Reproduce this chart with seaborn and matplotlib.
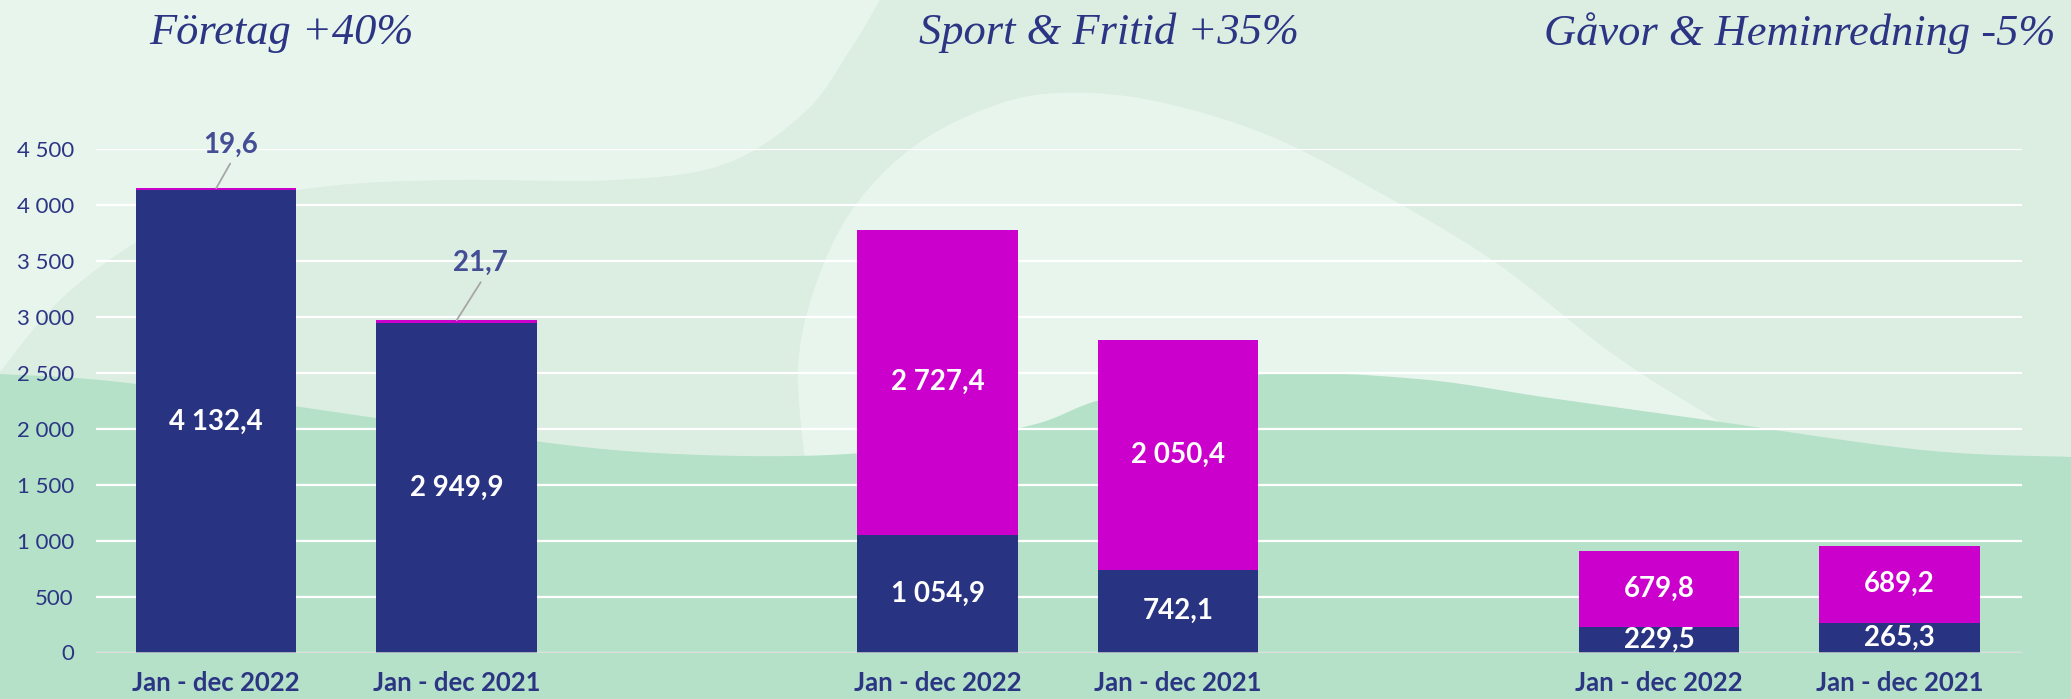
import numpy as np
import pandas as pd
import matplotlib
matplotlib.use("Agg")
import matplotlib.pyplot as plt
from matplotlib.patches import Polygon
import seaborn as sns

# ---- data -------------------------------------------------------------
segment_titles = ["Företag +40%", "Sport & Fritid +35%", "Gåvor & Heminredning -5%"]
period_labels = ["Jan - dec 2022", "Jan - dec 2021",
                 "Jan - dec 2022", "Jan - dec 2021",
                 "Jan - dec 2022", "Jan - dec 2021"]
slot_positions = [0, 1, 3, 4, 6, 7]
navy_values = [4132.4, 2949.9, 1054.9, 742.1, 229.5, 265.3]
magenta_values = [19.6, 21.7, 2727.4, 2050.4, 679.8, 689.2]
y_ticks = [0, 500, 1000, 1500, 2000, 2500, 3000, 3500, 4000, 4500]

NAVY = "#283382"
MAGENTA = "#CC00CC"
TEXT_NAVY = "#2B3584"
CALLOUT_NAVY = "#434E95"
BG_MID = "#DCEDE2"
BG_LIGHT = "#E8F5EC"
BG_GREEN = "#B4E1C8"

df = pd.DataFrame({
    "pos": slot_positions,
    "period": period_labels,
    "navy": navy_values,
    "magenta": magenta_values,
})
df["total"] = df["navy"] + df["magenta"]


def sv_number(v):
    s = f"{v:,.1f}"
    return s.replace(",", " ").replace(".", ",")


def sv_int(v):
    return f"{int(v):,}".replace(",", " ")


def smooth(points, n=40):
    """Catmull-Rom curve through the given points."""
    p = np.asarray(points, dtype=float)
    p = np.vstack([p[0], p, p[-1]])
    out = []
    for i in range(1, len(p) - 2):
        p0, p1, p2, p3 = p[i - 1], p[i], p[i + 1], p[i + 2]
        t = np.linspace(0, 1, n, endpoint=False)[:, None]
        out.append(0.5 * ((2 * p1) + (-p0 + p2) * t
                          + (2 * p0 - 5 * p1 + 4 * p2 - p3) * t ** 2
                          + (-p0 + 3 * p1 - 3 * p2 + p3) * t ** 3))
    out.append(p[-2][None, :])
    return np.vstack(out)


sns.set_style("white")
plt.rcParams["font.family"] = ["Lato", "DejaVu Sans"]

W, H = 2071, 699
fig = plt.figure(figsize=(W / 100, H / 100), dpi=100)
fig.patch.set_facecolor(BG_MID)

# ---- decorative background ----------------------------------------------
bg = fig.add_axes([0, 0, 1, 1], zorder=-1)
bg.set_xlim(0, W)
bg.set_ylim(H, 0)
bg.axis("off")
bg.add_patch(Polygon(np.vstack([[[0, 0]],
                                smooth([(880, 0), (850, 50), (805, 112), (725, 164),
                                        (615, 180), (450, 180), (330, 186), (220, 205),
                                        (140, 240), (60, 300), (0, 372)]),
                                [[0, 0]]]),
                     closed=True, fc=BG_LIGHT, ec="none"))
bg.add_patch(Polygon(np.vstack([[[806, H]],
                                smooth([(806, 470), (798, 370), (814, 290), (852, 210),
                                        (913, 147), (990, 107), (1058, 93), (1150, 100),
                                        (1265, 134), (1375, 190), (1495, 262), (1610, 352),
                                        (1700, 410), (1770, 450)]),
                                [[1770, H]]]),
                     closed=True, fc=BG_LIGHT, ec="none"))
bg.add_patch(Polygon(np.vstack([[[0, H]],
                                smooth([(0, 374), (128, 383), (383, 419), (574, 446),
                                        (702, 455), (829, 455), (930, 445), (1036, 424),
                                        (1112, 397), (1265, 374), (1418, 379), (1550, 398),
                                        (1700, 419), (1922, 450), (2071, 457)]),
                                [[W, H]]]),
                     closed=True, fc=BG_GREEN, ec="none"))

# ---- chart ------------------------------------------------------------
y0_px, ytop_px, xl_px, xr_px = 652.5, 149.3, 96, 2022
ax = fig.add_axes([xl_px / W, (H - y0_px) / H, (xr_px - xl_px) / W, (y0_px - ytop_px) / H])
ax.set_facecolor("none")

bar_width = 0.667
sns.barplot(data=df, x="pos", y="total", native_scale=True, color=MAGENTA,
            saturation=1, width=bar_width, errorbar=None, ax=ax, zorder=2,
            linewidth=0, edgecolor="none")
sns.barplot(data=df, x="pos", y="navy", native_scale=True, color=NAVY,
            saturation=1, width=bar_width, errorbar=None, ax=ax, zorder=3,
            linewidth=0, edgecolor="none")

ax.set_xlim(-0.5, 7.51)
ax.set_ylim(0, 4500)
ax.set_yticks(y_ticks)
ax.set_yticklabels([sv_int(t) for t in y_ticks])
ax.set_xticks(slot_positions)
ax.set_xticklabels(period_labels)
ax.set_xlabel("")
ax.set_ylabel("")
for s in ax.spines.values():
    s.set_visible(False)
ax.yaxis.grid(True, color="white", lw=1.6)
ax.xaxis.grid(False)
ax.set_axisbelow(True)
ax.axhline(0, color="#D4D4D4", lw=1.8, zorder=6)

ax.tick_params(axis="y", length=0, pad=16, labelsize=16, labelcolor=TEXT_NAVY)
ax.tick_params(axis="x", length=0, pad=13, labelsize=18.5, labelcolor=TEXT_NAVY)
for lab in ax.get_xticklabels():
    lab.set_fontweight("bold")

# value labels inside segments, callouts for thin ones
label_size = 20
callout = {0: (0.058, 220, 385), 1: (0.10, 340, 510)}
for i, row in df.iterrows():
    ax.text(row.pos, row.navy / 2, sv_number(row.navy), ha="center", va="center",
            color="white", fontsize=label_size, fontweight="bold", zorder=7)
    if i in callout:
        dx, rise, text_rise = callout[i]
        ax.plot([row.pos, row.pos + dx], [row.total, row.total + rise],
                color="#A6A6A6", lw=1.3, zorder=7, clip_on=False)
        ax.text(row.pos + dx, row.total + text_rise, sv_number(row.magenta),
                ha="center", va="center", color=CALLOUT_NAVY, fontsize=label_size,
                fontweight="bold", zorder=7, clip_on=False)
    else:
        ax.text(row.pos, row.navy + row.magenta / 2, sv_number(row.magenta),
                ha="center", va="center", color="white", fontsize=label_size,
                fontweight="bold", zorder=7)

# segment headings
for title, cx in zip(segment_titles, [281, 1109, 1800]):
    fig.text(cx / W, 1 - 33 / H, title, ha="center", va="center",
             family=["Liberation Serif", "DejaVu Serif"], style="italic",
             fontsize=32, color=TEXT_NAVY)

fig.savefig("out.png", dpi=100, facecolor=fig.get_facecolor())
